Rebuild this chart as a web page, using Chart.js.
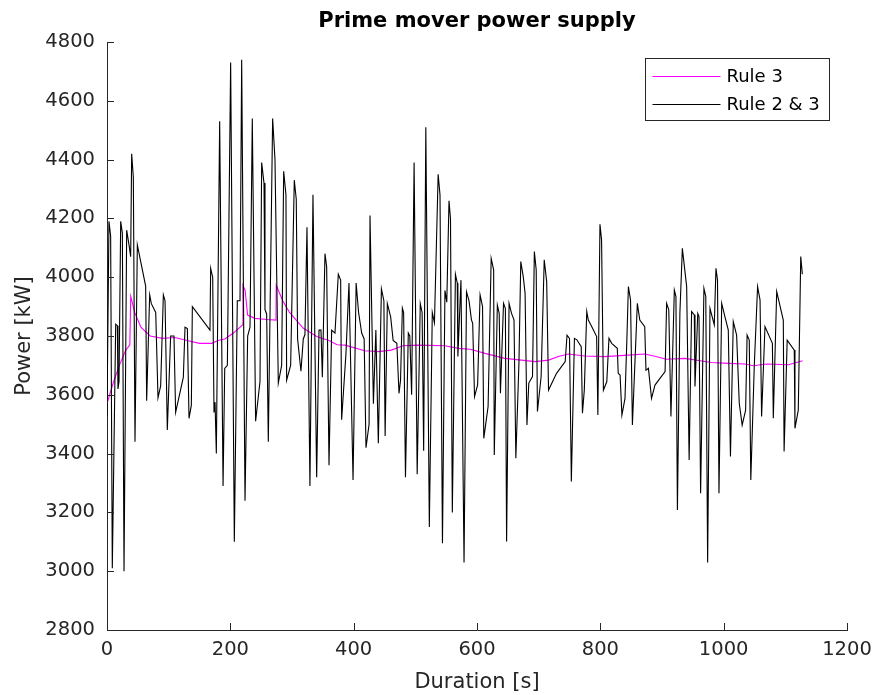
<!DOCTYPE html>
<html>
<head>
<meta charset="utf-8">
<title>Prime mover power supply</title>
<script src="https://cdn.jsdelivr.net/npm/chart.js@4.4.0/dist/chart.umd.min.js"></script>
<style>
    html, body { margin: 0; padding: 0; background: #ffffff; }
    #wrap { width: 874px; height: 695px; }
</style>
</head>
<body>
<div id="wrap"><canvas id="powerChart" width="874" height="695"></canvas></div>
<script>
// Rule 3 - smoothed prime mover power [time s, power kW]
const rule3Samples = [
    [0, 3570], [10, 3640], [20, 3700], [30, 3750], [37, 3770], [38.5, 3935],
    [45, 3880], [55, 3830], [70, 3800], [90, 3792], [110, 3795], [130, 3785],
    [150, 3775], [170, 3775], [180, 3785], [191, 3790], [205, 3810], [220, 3838],
    [220.5, 3972], [224, 3955], [228, 3871], [240, 3860], [260, 3856], [274, 3854],
    [274.5, 3972], [285, 3920], [296, 3880], [318, 3827], [340, 3798], [360, 3785],
    [373, 3770], [386, 3769], [418, 3750], [440, 3747], [461, 3752], [480, 3767],
    [505, 3769], [548, 3767], [570, 3758], [589, 3755], [613, 3741], [645, 3724],
    [672, 3718], [694, 3713], [716, 3718], [732, 3730], [748, 3739], [775, 3732],
    [807, 3730], [845, 3735], [872, 3739], [890, 3730], [907, 3721], [937, 3724],
    [962, 3716], [980, 3710], [1008, 3707], [1034, 3705], [1048, 3699], [1070, 3705],
    [1105, 3702], [1128, 3716]
];

// Rule 2 & 3 - fluctuating prime mover power [time s, power kW]
const rule23Samples = [
    [0, 3530], [3.2, 4190], [5.9, 4140], [8.6, 3010], [14.1, 3840], [16.8, 3835],
    [17.8, 3620], [19.5, 3645], [22.2, 4190], [24.9, 4150], [27.6, 3000], [31.9, 4160],
    [35.7, 4110], [38.4, 4070], [40, 4420], [42.7, 4340], [45.4, 3440], [49.2, 4110],
    [62.7, 3970], [64.3, 3580], [69.2, 3940], [71.9, 3910], [79, 3880], [82.7, 3590],
    [87, 3630], [91.4, 3940], [94.1, 3920], [97.8, 3480], [103.2, 3800], [108.6, 3800],
    [111.3, 3540], [123.8, 3660], [126.5, 3830], [130.3, 3825], [133, 3520], [136.8, 3565],
    [138.4, 3900], [167, 3820], [168.1, 4030], [171.4, 4000], [173.5, 3540], [175.2, 3575],
    [177.3, 3400], [182.7, 4530], [188.2, 3290], [190.9, 3690], [195.2, 3700], [200.5, 4730],
    [206.5, 3100], [211.3, 3920], [215.7, 3920], [218.4, 4740], [223.8, 3240], [228.1, 3800],
    [231.9, 3830], [235.6, 4540], [241, 3510], [248.1, 3645], [250.8, 4390], [254.6, 4320],
    [256.2, 3890], [258.9, 3875], [261.6, 3440], [268.6, 4540], [272.4, 4400], [277.8, 3640],
    [283.2, 3700], [286.5, 4360], [290.2, 4280], [291.3, 3650], [297.8, 3700], [303.7, 4330],
    [306.9, 4265], [309.1, 3790], [314.5, 3680], [318.3, 3790], [321, 3805], [324.3, 4170],
    [329.1, 3290], [334, 4280], [340, 3320], [343.8, 3820], [347, 3820], [349.2, 3660],
    [353.5, 4080], [356.2, 4035], [360, 3360], [364.3, 3820], [369.7, 3810], [375.1, 4010],
    [378.9, 3990], [380.5, 3515], [387.5, 3740], [392.4, 3980], [399, 3310], [404, 3980],
    [408, 3880], [413, 3810], [417, 3790], [420, 3420], [425, 3500], [426.5, 4210],
    [432, 3570], [436, 3820], [440, 3435], [445, 3960], [449, 3920], [451, 3460],
    [454.6, 3910], [460, 3865], [464, 3785], [470, 3775], [473.5, 3605], [476, 3650],
    [479, 3895], [481, 3880], [484, 3320], [488.6, 3810], [491, 3800], [494, 3600],
    [498, 4390], [503, 3330], [508, 3910], [511, 3880], [513.5, 3410], [517, 4510],
    [522.7, 3150], [527.5, 3880], [531, 3845], [537, 4350], [540, 4280], [544, 3095],
    [548, 3955], [551, 3915], [554.6, 4260], [557, 4200], [560, 3200], [565, 4010],
    [568, 3980], [569, 3730], [574, 3990], [579, 3030], [583, 3950], [587, 3920],
    [591, 3855], [593, 3843], [596, 3594], [601, 3634], [605, 3940], [609, 3900],
    [611, 3452], [618, 3560], [623, 4064], [627, 4025], [628, 3395], [633, 3905],
    [636, 3877], [638, 3605], [643, 3911], [646, 3894], [648, 3101], [652, 3911],
    [656, 3877], [660, 3855], [663, 3384], [668, 3707], [671, 4053], [675, 4002],
    [678, 3945], [681, 3497], [684, 3640], [690, 3662], [693, 4087], [696, 4025],
    [698, 3543], [704, 3662], [709, 4059], [713, 3985], [716, 3616], [729, 3673],
    [743, 3713], [746, 3803], [750, 3792], [753, 3305], [758, 3792], [762, 3787],
    [769, 3764], [771, 3537], [774, 3616], [778, 3883], [780.5, 3854], [786, 3832],
    [794, 3798], [796, 3531], [799.4, 4180], [802, 4127], [805, 3616], [810.5, 3645],
    [814, 3792], [818.4, 3775], [827.5, 3758], [829, 3673], [832, 3667], [835, 3531],
    [840, 3588], [843, 3786], [845.5, 3968], [849, 3922], [852, 3497], [860, 3911],
    [864, 3854], [872, 3832], [874, 3684], [878, 3690], [883, 3588], [888.6, 3633],
    [905, 3679], [907.5, 3911], [911, 3889], [914.5, 3526], [920, 3956], [922.6, 3934],
    [925, 3208], [929, 3877], [933, 4098], [940, 3968], [944, 3378], [948, 3883],
    [952.4, 3872], [953.5, 3628], [958, 3877], [960, 3866], [962.6, 3265], [968, 3962],
    [971, 3934], [974, 3030], [977.8, 3894], [984.8, 3838], [987.5, 4030], [990, 3990],
    [992.4, 3265], [996.8, 3911], [1002, 3866], [1007.5, 3820], [1011, 3390], [1015.6, 3849],
    [1021, 3803], [1025.3, 3571], [1030, 3497], [1035.6, 3548], [1038, 3803], [1041.5, 3786],
    [1044, 3310], [1049.6, 3696], [1055, 3968], [1059, 3922], [1061.5, 3526], [1067, 3832],
    [1079, 3775], [1080.5, 3520], [1086, 3951], [1096.7, 3854], [1098, 3407], [1103, 3786],
    [1114.5, 3752], [1115.6, 3486], [1121, 3548], [1125, 4070], [1127.6, 4010]
];

// Axis ranges / ticks
const xRange = [0, 1200];
const xStep = 200;
const yRange = [2800, 4800];
const yStep = 200;

const fontFamily = "'DejaVu Sans', Verdana, sans-serif";
const axisColor = '#262626';

function toPoints(samples) {
    return samples.map(s => ({ x: s[0], y: s[1] }));
}

// Title centred over the plot box (MATLAB style)
const plotTitle = {
    id: 'plotTitle',
    afterDraw(chart, args, opts) {
        const { ctx, chartArea } = chart;
        ctx.save();
        ctx.font = 'bold ' + opts.size + 'px ' + fontFamily;
        ctx.fillStyle = '#000000';
        ctx.textAlign = 'center';
        ctx.textBaseline = 'middle';
        ctx.fillText(opts.text, (chartArea.left + chartArea.right) / 2, opts.y);
        ctx.restore();
    }
};

// Inward tick marks on the left and bottom axes
const innerTicks = {
    id: 'innerTicks',
    afterDraw(chart) {
        const { ctx, chartArea, scales } = chart;
        const len = 7;
        ctx.save();
        ctx.strokeStyle = axisColor;
        ctx.lineWidth = 1;
        ctx.beginPath();
        scales.x.ticks.forEach(t => {
            const px = Math.round(scales.x.getPixelForValue(t.value)) + 0.5;
            ctx.moveTo(px, chartArea.bottom);
            ctx.lineTo(px, chartArea.bottom - len);
        });
        scales.y.ticks.forEach(t => {
            const py = Math.round(scales.y.getPixelForValue(t.value)) + 0.5;
            ctx.moveTo(chartArea.left, py);
            ctx.lineTo(chartArea.left + len, py);
        });
        ctx.stroke();
        ctx.restore();
    }
};

// Boxed legend in the top right corner
const boxLegend = {
    id: 'boxLegend',
    afterDraw(chart) {
        const { ctx, chartArea } = chart;
        const w = 184, h = 62;
        const left = chartArea.right - 18 - w + 0.5;
        const top = chartArea.top + 16 + 0.5;
        ctx.save();
        ctx.fillStyle = '#ffffff';
        ctx.fillRect(left, top, w, h);
        ctx.strokeStyle = axisColor;
        ctx.lineWidth = 1;
        ctx.strokeRect(left, top, w, h);
        ctx.font = '18px ' + fontFamily;
        ctx.textBaseline = 'middle';
        ctx.textAlign = 'left';
        chart.data.datasets.forEach((ds, i) => {
            const y = Math.round(top + 17 + i * 28) + 0.5;
            ctx.strokeStyle = ds.borderColor;
            ctx.beginPath();
            ctx.moveTo(left + 7, y);
            ctx.lineTo(left + 75, y);
            ctx.stroke();
            ctx.fillStyle = '#000000';
            ctx.fillText(ds.label, left + 81, y + 1);
        });
        ctx.restore();
    }
};

const ctx = document.getElementById('powerChart');

new Chart(ctx, {
    type: 'line',
    data: {
        datasets: [
            {
                label: 'Rule 3',
                data: toPoints(rule3Samples),
                borderColor: '#ff00ff',
                borderWidth: 1.1,
                pointRadius: 0,
                tension: 0,
                order: 1
            },
            {
                label: 'Rule 2 & 3',
                data: toPoints(rule23Samples),
                borderColor: '#000000',
                borderWidth: 1.1,
                pointRadius: 0,
                tension: 0,
                order: 0
            }
        ]
    },
    options: {
        responsive: false,
        animation: false,
        devicePixelRatio: 1,
        layout: { padding: { top: 42, right: 27, bottom: 0, left: 0 } },
        plugins: {
            legend: { display: false },
            tooltip: { enabled: false },
            title: { display: false },
            plotTitle: { text: 'Prime mover power supply', size: 21, y: 22 }
        },
        scales: {
            x: {
                type: 'linear',
                min: xRange[0],
                max: xRange[1],
                ticks: {
                    stepSize: xStep,
                    color: axisColor,
                    font: { family: fontFamily, size: 19.5 },
                    padding: 8,
                    maxRotation: 0,
                    autoSkip: false,
                    callback: v => String(v)
                },
                grid: { display: false, drawTicks: false },
                border: { display: true, color: axisColor, width: 1 },
                title: {
                    display: true,
                    text: 'Duration [s]',
                    color: axisColor,
                    font: { family: fontFamily, size: 21 },
                    padding: { top: 0, bottom: 0 }
                },
                afterFit: s => { s.height = 65; s.paddingLeft = 0; s.paddingRight = 0; }
            },
            y: {
                type: 'linear',
                min: yRange[0],
                max: yRange[1],
                ticks: {
                    stepSize: yStep,
                    color: axisColor,
                    font: { family: fontFamily, size: 19.5 },
                    padding: 12,
                    callback: v => String(v)
                },
                grid: { display: false, drawTicks: false },
                border: { display: true, color: axisColor, width: 1 },
                title: {
                    display: true,
                    text: 'Power [kW]',
                    color: axisColor,
                    font: { family: fontFamily, size: 21 },
                    padding: { top: 12, bottom: 0 }
                },
                afterFit: s => { s.width = 107; s.paddingTop = 0; s.paddingBottom = 0; }
            }
        }
    },
    plugins: [innerTicks, boxLegend, plotTitle]
});
</script>
</body>
</html>
